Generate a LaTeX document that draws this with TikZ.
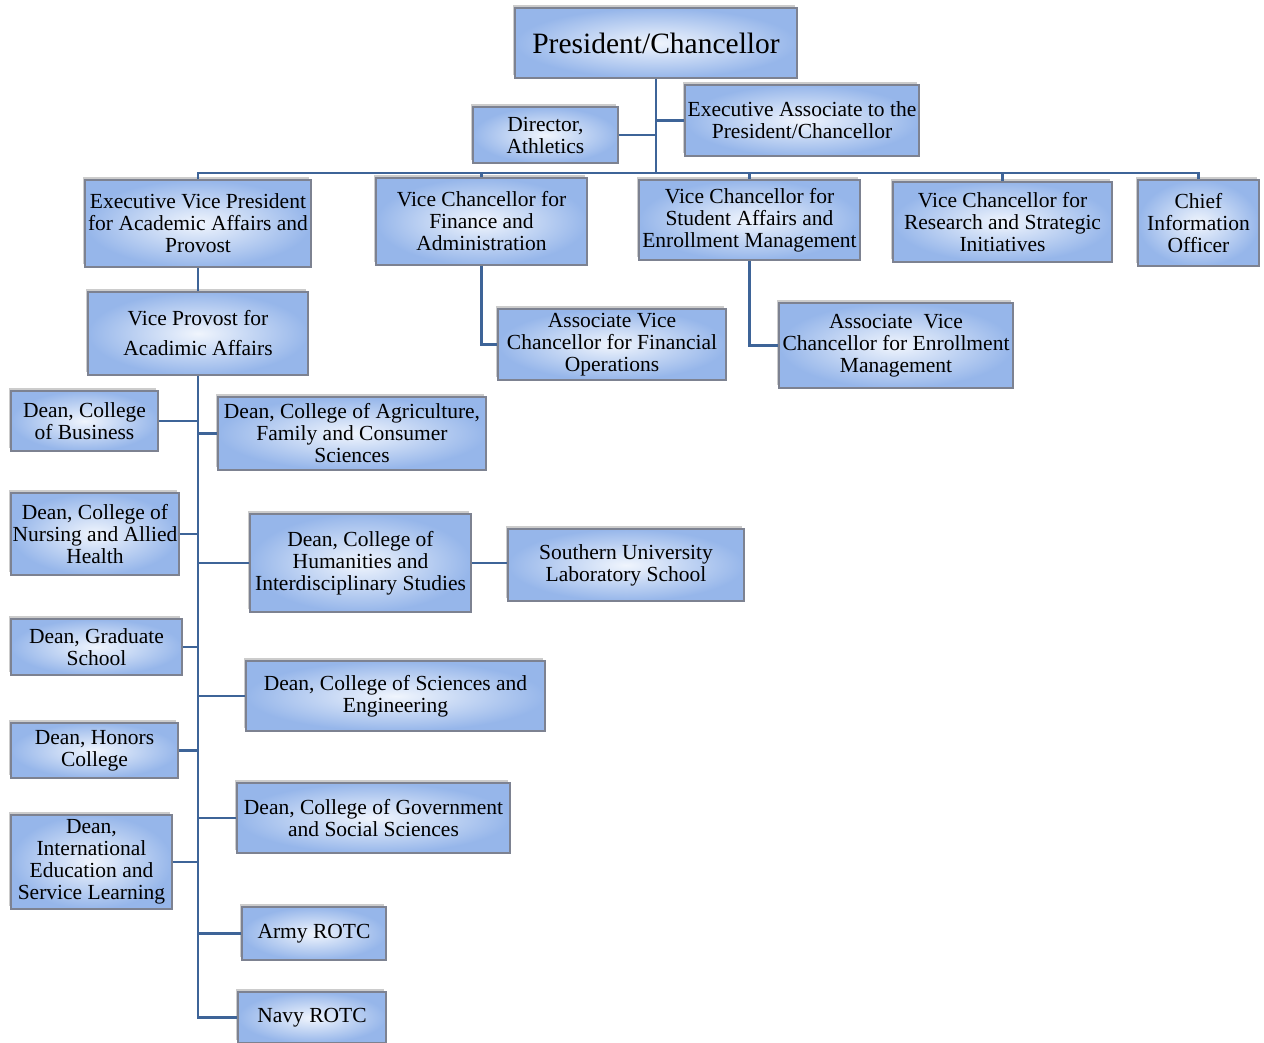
\documentclass[tikz,border=0pt]{standalone}
\usepackage{fontspec}
\setmainfont{Liberation Serif}
\usepackage{tikz}
\usetikzlibrary{shadows}

\definecolor{boxedge}{RGB}{125,130,145}
\definecolor{boxouter}{RGB}{150,182,234}
\definecolor{boxinner}{RGB}{240,245,253}
\definecolor{linkblue}{RGB}{62,100,152}

\begin{document}
\begin{tikzpicture}[x=1pt, y=-1pt]
    \tikzstyle{post}=[
        draw = boxedge,
        line width = 1.2pt,
        inner color = boxinner,
        outer color = boxouter,
        rectangle,
        align = center,
        inner sep = 0pt,
        drop shadow = {opacity=0.4, shadow xshift=-2pt, shadow yshift=3pt},
        font = \fontsize{21.5}{22}\selectfont
    ]
    \tikzstyle{link}=[
        draw = linkblue,
        line width = 2.8pt
    ]

    \useasboundingbox (0, 0) rectangle (1264, 1043);

	\node[post, minimum width=282pt, minimum height=70pt, font=\fontsize{29.5}{32}\selectfont]
	    (pres) at (656, 43) {President/Chancellor};
	\node[post, minimum width=145pt, minimum height=56pt] (athl) at (545.5, 135) {Director,\\Athletics};
	\node[post, minimum width=234pt, minimum height=71pt] (exas) at (802, 120.5) {Executive Associate to the\\President/Chancellor};

	\node[post, minimum width=226pt, minimum height=87pt] (evp) at (198, 223.5) {Executive Vice President\\for Academic Affairs and\\Provost};
	\node[post, minimum width=211pt, minimum height=87pt] (vcfin) at (481.5, 221.5) {Vice Chancellor for\\Finance and\\Administration};
	\node[post, minimum width=221pt, minimum height=80pt] (vcstu) at (749.5, 220) {Vice Chancellor for\\Student Affairs and\\Enrollment Management};
	\node[post, minimum width=219pt, minimum height=80pt] (vcres) at (1002.5, 222) {Vice Chancellor for\\Research and Strategic\\Initiatives};
	\node[post, minimum width=121pt, minimum height=86pt] (cio) at (1198.5, 223) {Chief\\Information\\Officer};

	\node[post, minimum width=220pt, minimum height=83pt] (vprov) at (198, 333.5) {Vice Provost for\\[8pt]Acadimic Affairs};
	\node[post, minimum width=228pt, minimum height=71pt] (avcfin) at (612, 344.5) {Associate Vice\\Chancellor for Financial\\Operations};
	\node[post, minimum width=234pt, minimum height=85pt] (avcenr) at (896, 345.5) {Associate\ \ Vice\\Chancellor for Enrollment\\Management};

	\node[post, minimum width=147pt, minimum height=60pt] (bus) at (84.5, 421) {Dean, College\\of Business};
	\node[post, minimum width=168pt, minimum height=82pt] (nurs) at (95, 534) {Dean, College of\\Nursing and Allied\\Health};
	\node[post, minimum width=171pt, minimum height=56pt] (grad) at (96.5, 647) {Dean, Graduate\\School};
	\node[post, minimum width=167pt, minimum height=55pt] (hon) at (94.5, 750.5) {Dean, Honors\\College};
	\node[post, minimum width=161pt, minimum height=94pt] (intl) at (91.5, 862) {Dean,\\International\\Education and\\Service Learning};

	\node[post, minimum width=268pt, minimum height=73pt] (agr) at (352, 433.5) {Dean, College of Agriculture,\\Family and Consumer\\Sciences};
	\node[post, minimum width=221pt, minimum height=98pt] (hum) at (360.5, 563) {Dean, College of\\Humanities and\\Interdisciplinary Studies};
	\node[post, minimum width=236pt, minimum height=72pt] (lab) at (626, 565) {Southern University\\Laboratory School};
	\node[post, minimum width=299pt, minimum height=70pt] (sci) at (395.5, 696) {Dean, College of Sciences and\\Engineering};
	\node[post, minimum width=273pt, minimum height=70pt] (gov) at (373.5, 818) {Dean, College of Government\\and Social Sciences};
	\node[post, minimum width=144pt, minimum height=53pt] (army) at (314, 933.5) {Army ROTC};
	\node[post, minimum width=148pt, minimum height=51pt] (navy) at (312, 1017.5) {Navy ROTC};

	\coordinate (top) at (656, 173);

	\path[link] (pres.south) -- (top);
	\path[link] (athl.east) -- (athl.east -| pres.south);
	\path[link] (exas.west) -- (exas.west -| pres.south);
	\path[link] (top) -| (evp.north);
	\path[link] (top) -| (vcfin.north);
	\path[link] (top) -| (vcstu.north);
	\path[link] (top) -| (vcres.north);
	\path[link] (top) -| (cio.north);
	\path[link] (evp.south) -- (vprov.north);
	\path[link] (vcfin.south) |- (avcfin.west);
	\path[link] (vcstu.south) |- (avcenr.west);

	\path[link] (vprov.south) |- (navy.west);
	\path[link] (bus.east) -- (bus.east -| vprov.south);
	\path[link] (nurs.east) -- (nurs.east -| vprov.south);
	\path[link] (grad.east) -- (grad.east -| vprov.south);
	\path[link] (hon.east) -- (hon.east -| vprov.south);
	\path[link] (intl.east) -- (intl.east -| vprov.south);
	\path[link] (agr.west) -- (agr.west -| vprov.south);
	\path[link] (hum.west) -- (hum.west -| vprov.south);
	\path[link] (sci.west) -- (sci.west -| vprov.south);
	\path[link] (gov.west) -- (gov.west -| vprov.south);
	\path[link] (army.west) -- (army.west -| vprov.south);
	\path[link] (hum.east) -- (hum.east -| lab.west);

	\end{tikzpicture}
\end{document}
